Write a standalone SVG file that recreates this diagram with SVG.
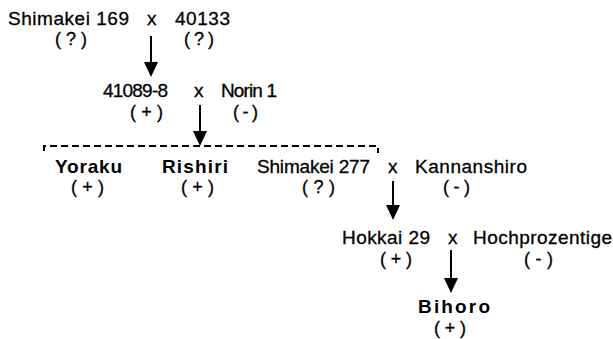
<svg xmlns="http://www.w3.org/2000/svg" width="613" height="339" viewBox="0 0 613 339">
<style>
text{font-family:"Liberation Sans",Arial,Helvetica,sans-serif;font-size:19px;fill:#000;stroke:#000;stroke-width:0.3}
.b{font-weight:bold;stroke-width:0}
.p{font-size:18px}
.c{stroke:#000;stroke-width:2;fill:none}
.d{stroke:#000;stroke-width:2;fill:none;stroke-dasharray:7 4}
</style>
<defs>
<marker id="ah" viewBox="0 -7 15 14" refX="12" refY="0" markerWidth="15" markerHeight="14" markerUnits="userSpaceOnUse" orient="auto">
<path d="M0,-7 L15,0 L0,7 z" fill="#000"/>
</marker>
</defs>
<rect width="613" height="339" fill="#fff"/>
<g id="shimakei169"><text x="8" y="25" textLength="121" lengthAdjust="spacing">Shimakei 169</text><text class="p" x="55" y="45" textLength="32" lengthAdjust="spacing">(?)</text></g>
<g id="cross1"><text x="147" y="25">x</text></g>
<g id="n40133"><text x="175" y="25" textLength="55" lengthAdjust="spacing">40133</text><text class="p" x="184" y="45" textLength="30" lengthAdjust="spacing">(?)</text></g>
<g id="n41089"><text x="103" y="97" textLength="65" lengthAdjust="spacing">41089-8</text><text class="p" x="130" y="118" textLength="33" lengthAdjust="spacing">(+)</text></g>
<g id="cross2"><text x="194" y="97">x</text></g>
<g id="norin1"><text x="221" y="97" textLength="56" lengthAdjust="spacing">Norin 1</text><text class="p" x="233" y="118" textLength="25" lengthAdjust="spacing">(-)</text></g>
<g id="yoraku"><text class="b" x="55" y="173" textLength="67" lengthAdjust="spacing">Yoraku</text><text class="p" x="71" y="193" textLength="33" lengthAdjust="spacing">(+)</text></g>
<g id="rishiri"><text class="b" x="162" y="173" textLength="66" lengthAdjust="spacing">Rishiri</text><text class="p" x="181" y="193" textLength="33" lengthAdjust="spacing">(+)</text></g>
<g id="shimakei277"><text x="257" y="173" textLength="113" lengthAdjust="spacing">Shimakei 277</text><text class="p" x="302" y="193" textLength="33" lengthAdjust="spacing">(?)</text></g>
<g id="cross3"><text x="388" y="173">x</text></g>
<g id="kannanshiro"><text x="415" y="173" textLength="112" lengthAdjust="spacing">Kannanshiro</text><text class="p" x="443" y="193" textLength="27" lengthAdjust="spacing">(-)</text></g>
<g id="hokkai29"><text x="342" y="244" textLength="88" lengthAdjust="spacing">Hokkai 29</text><text class="p" x="380" y="265" textLength="32" lengthAdjust="spacing">(+)</text></g>
<g id="cross4"><text x="448" y="244">x</text></g>
<g id="hochprozentige"><text x="473" y="244" textLength="139" lengthAdjust="spacing">Hochprozentige</text><text class="p" x="524" y="265" textLength="29" lengthAdjust="spacing">(-)</text></g>
<g id="bihoro"><text class="b" x="418" y="313" font-size="18" textLength="72" lengthAdjust="spacing">Bihoro</text><text class="p" x="434" y="334" textLength="32" lengthAdjust="spacing">(+)</text></g>
<g id="connectors">
<line class="c" x1="151" y1="36" x2="151" y2="74" marker-end="url(#ah)"/>
<line class="c" x1="200" y1="105" x2="200" y2="143" marker-end="url(#ah)"/>
<path class="d" d="M44,151 V146 H378 V153"/>
<line class="c" x1="393" y1="181" x2="393" y2="217" marker-end="url(#ah)"/>
<line class="c" x1="451" y1="250" x2="451" y2="290" marker-end="url(#ah)"/>
</g>
</svg>
